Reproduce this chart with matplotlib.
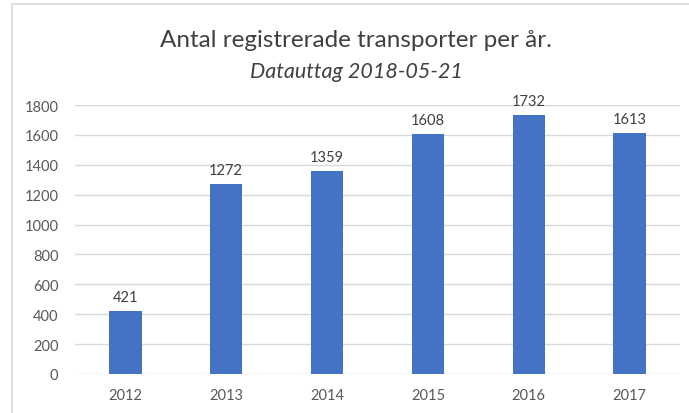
import matplotlib.pyplot as plt
from matplotlib.patches import Rectangle

years = ['2012', '2013', '2014', '2015', '2016', '2017']
counts = [421, 1272, 1359, 1608, 1732, 1613]
yticks = [0, 200, 400, 600, 800, 1000, 1200, 1400, 1600, 1800]

plt.rcParams['font.family'] = ['Lato', 'DejaVu Sans']

fig = plt.figure(figsize=(6.89, 4.14), dpi=100)
fig.patches.append(Rectangle((12 / 689, -0.05), 1.1, 1 - 5 / 414 + 0.05,
                             transform=fig.transFigure, fill=False,
                             edgecolor='#D9D9D9', linewidth=1.2))

ax = fig.add_axes([75 / 689, 1 - 375 / 414, 605 / 689, 269 / 414])
x = range(len(years))
bars = ax.bar(x, counts, width=0.32, color='#4472C4', zorder=3)
for b, v in zip(bars, counts):
    ax.text(b.get_x() + b.get_width() / 2, v + 45, str(v), ha='center', va='bottom',
            fontsize=10.5, color='#404040')

ax.set_xlim(-0.5, len(years) - 0.5)
ax.set_ylim(0, 1800)
ax.set_yticks(yticks)
ax.set_xticks(list(x))
ax.set_xticklabels(years)
ax.grid(axis='y', color='#D9D9D9', linewidth=1, zorder=0)
for s in ax.spines.values():
    s.set_visible(False)
ax.tick_params(length=0, labelsize=10.5, labelcolor='#595959')
ax.tick_params(axis='y', pad=12)
ax.tick_params(axis='x', pad=10)

fig.text(0.517, 0.903, 'Antal registrerade transporter per år.', ha='center', va='center',
         fontsize=17.5, color='#404040')
fig.text(0.518, 0.826, 'Datauttag 2018-05-21', ha='center', va='center',
         fontsize=15.5, style='italic', color='#404040')

fig.savefig('out.png', dpi=100)
